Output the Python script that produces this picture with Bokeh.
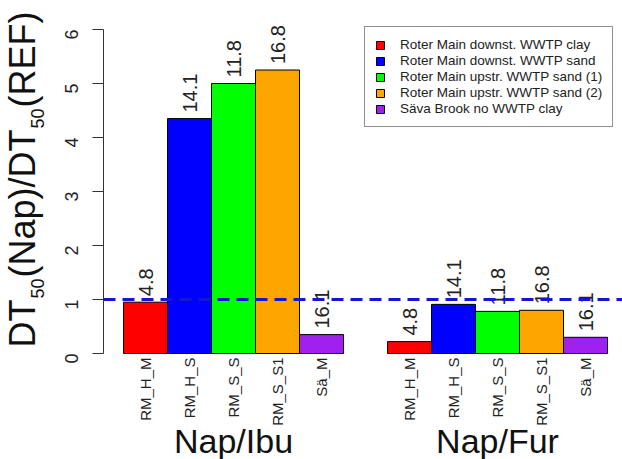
import math
from bokeh.plotting import figure
from bokeh.layouts import row
from bokeh.models import Range1d, Span, Legend, LegendItem, ColumnDataSource, FixedTicker
from bokeh.embed import file_html
from bokeh.resources import INLINE
from bokeh.core.properties import value

# ---------------- data ----------------
sites = ["RM_H_M", "RM_H_S", "RM_S_S", "RM_S_S1", "Sä_M"]
series_names = [
    "Roter Main downst. WWTP clay",
    "Roter Main downst. WWTP sand",
    "Roter Main upstr. WWTP sand (1)",
    "Roter Main upstr. WWTP sand (2)",
    "Säva Brook no WWTP clay",
]
colors = ["#FF0000", "#0000FF", "#00FF00", "#FFA500", "#A020F0"]
groups = ["Nap/Ibu", "Nap/Fur"]
ratio_ibu = [0.95, 4.35, 5.0, 5.25, 0.35]
ratio_fur = [0.22, 0.91, 0.78, 0.80, 0.30]
dt50_labels = ["4.8", "14.1", "11.8", "16.8", "16.1"]
y_ticks = [0, 1, 2, 3, 4, 5, 6]
ref_line = 1
# y-axis title pieces: (text, is_subscript)
title_parts = [("DT", False), ("50", True), ("(Nap)/DT", False), ("50", True), ("(REF)", False)]

# ---------------- layout ----------------
W, H = 622, 459
TITLE_W = 50          # width of the strip holding the y-axis title
PX_X = 44.0           # pixels per bar width
PX_Y = 54.0           # pixels per y unit
AXIS_X = 103          # x of the y axis in the window
ZERO_Y = 353
FIRST_BAR_LEFT = 123
FONT = "Liberation Sans"

x_start = -(FIRST_BAR_LEFT - AXIS_X) / PX_X
x_end = x_start + (W - AXIS_X) / PX_X
y_start = -(H - ZERO_Y) / PX_Y
y_end = ZERO_Y / PX_Y


def dy(py):
    return (ZERO_Y - py) / PX_Y


n = len(sites)
gap = 1  # one bar width between groups

# ---------- title strip ----------
t = figure(width=TITLE_W, height=H, output_backend="svg", toolbar_location=None,
           x_range=Range1d(0, TITLE_W), y_range=Range1d(H, 0),
           x_axis_location=None, y_axis_location=None,
           min_border_left=0, min_border_right=0, min_border_top=0, min_border_bottom=0)
t.outline_line_color = None
t.xgrid.visible = False
t.ygrid.visible = False

MAIN_F, SUB_F = 36, 18
SUB_GAP_BEFORE, SUB_GAP_AFTER = 1, 1
cw = {"D": .722, "T": .611, "(": .333, ")": .333, "N": .722, "a": .556, "p": .556,
      "/": .278, "R": .722, "E": .667, "F": .611, "5": .556, "0": .556}
tx, ty, tt, tf = [], [], [], []
pos_y = 347.0
for txt, sub in title_parts:
    f = SUB_F if sub else MAIN_F
    if sub:
        pos_y -= SUB_GAP_BEFORE
    tx.append(37 if sub else 21.5)
    ty.append(pos_y)
    tt.append(txt)
    tf.append(f"{f}px")
    pos_y -= sum(cw[c] for c in txt) * f
    if sub:
        pos_y -= SUB_GAP_AFTER
t.text(x=tx, y=ty, text=tt, text_font_size=tf, angle=math.pi / 2,
       text_align="left", text_baseline="middle",
       text_font=value(FONT), text_color="#111111")

# ---------- main chart ----------
MW = W - TITLE_W
p = figure(width=MW, height=H, output_backend="svg", toolbar_location=None,
           x_range=Range1d(x_start, x_end), y_range=Range1d(y_start, y_end),
           x_axis_location=None, min_border_left=AXIS_X - TITLE_W, min_border_right=0,
           min_border_top=0, min_border_bottom=0)
p.outline_line_color = None
p.xgrid.visible = False
p.ygrid.visible = False
p.background_fill_color = "white"
p.border_fill_color = "white"

ax = p.yaxis[0]
ax.bounds = (y_ticks[0], y_ticks[-1])
ax.ticker = FixedTicker(ticks=y_ticks)
ax.minor_tick_line_color = None
ax.major_tick_out = 11
ax.major_tick_in = 0
ax.axis_line_color = "#333333"
ax.major_tick_line_color = "#333333"
ax.major_label_orientation = math.pi / 2
ax.major_label_text_font_size = "18px"
ax.major_label_text_font = FONT
ax.major_label_text_color = "#222222"
ax.major_label_standoff = 21

items = []
for i in range(n):
    xs = [i + 0.5, n + gap + i + 0.5]
    tops = [ratio_ibu[i], ratio_fur[i]]
    src = ColumnDataSource(dict(x=xs, top=tops, lab=[dt50_labels[i]] * 2,
                                ly=[v + 6 / PX_Y for v in tops]))
    r = p.vbar(x="x", top="top", bottom=0, width=1, source=src,
               fill_color=colors[i], line_color="black", line_width=1)
    items.append(LegendItem(label=series_names[i], renderers=[r]))
    p.text(x="x", y="ly", text="lab", source=src, angle=math.pi / 2,
           text_align="left", text_baseline="middle",
           text_font=value(FONT), text_font_size="20px", text_color="#222222")

# category labels
cat_x = [i + 0.5 for i in range(n)] + [n + gap + i + 0.5 for i in range(n)]
cat_t = sites + sites
p.text(x=cat_x, y=[dy(ZERO_Y + 4)] * len(cat_x), text=cat_t, angle=math.pi / 2,
       text_align="right", text_baseline="middle",
       text_font=value(FONT), text_font_size="15px", text_color="#222222")

# group labels
grp_x = [n / 2, n + gap + n / 2]
p.text(x=grp_x, y=[dy(440)] * 2, text=groups,
       text_align="center", text_baseline="middle",
       text_font=value(FONT), text_font_size="34px", text_color="#111111")

p.add_layout(Span(location=ref_line, dimension="width", line_color="#1515D8",
                  line_width=3, line_dash="12 7"))

legend = Legend(items=items, location=(261, 332))
legend.label_text_font = FONT
legend.label_text_font_size = "13.5px"
legend.label_text_color = "#222222"
legend.glyph_width = 10
legend.glyph_height = 10
legend.label_standoff = 15
legend.label_height = 14
legend.spacing = 1
legend.padding = 10
legend.margin = 0
legend.border_line_color = "#222222"
legend.border_line_width = 1.5
legend.background_fill_alpha = 1
p.add_layout(legend)

layout = row(t, p, spacing=0)
open("out.html", "w").write(file_html(layout, INLINE))
